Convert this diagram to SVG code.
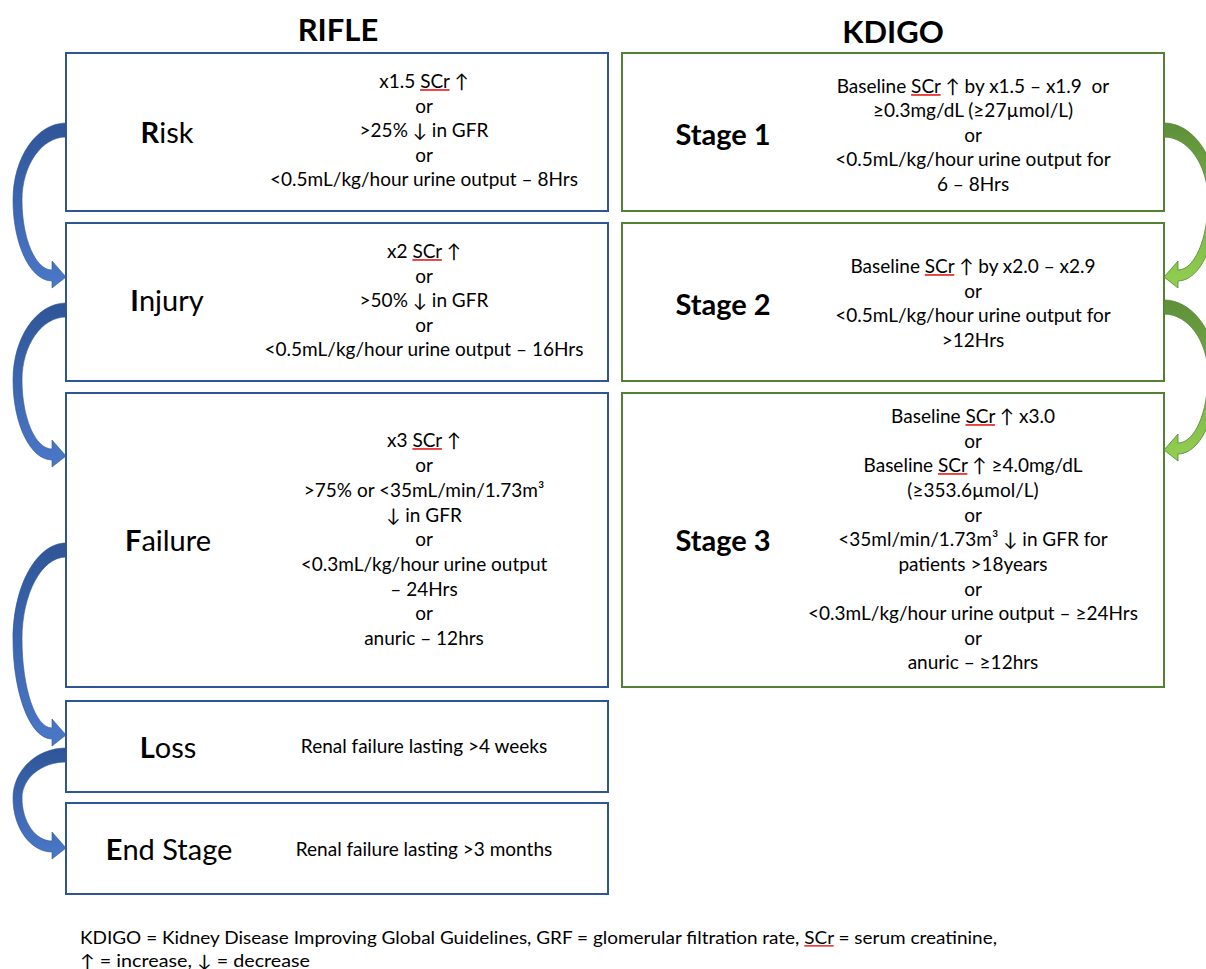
<svg xmlns="http://www.w3.org/2000/svg" width="1206" height="969" viewBox="0 0 1206 969">
<style>
text{font-family:Lato,"Liberation Sans",sans-serif;fill:#000;}
.t{font-size:19px;text-anchor:middle;}
.lab{font-size:29px;text-anchor:middle;}
.stg{font-size:29px;font-weight:bold;text-anchor:middle;}
.ttl{font-size:31px;font-weight:bold;text-anchor:middle;}
.ft{font-size:17px;}
.b{font-weight:bold;}
.sp{text-decoration:underline;fill:#e84040;}
.sp tspan{fill:#000;}
.bb{fill:#fff;stroke:#2F5597;stroke-width:2;}
.gb{fill:#fff;stroke:#548235;stroke-width:2;}
.ba{fill:url(#blueG);stroke:#2F5597;stroke-width:0.6;}
.ga{fill:url(#greenG);stroke:#548235;stroke-width:0.8;}
</style>
<defs>
<linearGradient id="blueG" x1="0" y1="0" x2="0" y2="1">
<stop offset="0" stop-color="#2F5597"/>
<stop offset="1" stop-color="#4A78C8"/>
</linearGradient>
<linearGradient id="greenG" x1="0" y1="0" x2="0" y2="1">
<stop offset="0" stop-color="#5E8F3A"/>
<stop offset="1" stop-color="#92D050"/>
</linearGradient>
</defs>
<rect width="1206" height="969" fill="#fff"/>
<text class="ttl" x="338" y="41">RIFLE</text>
<text class="ttl" x="893" y="43">KDIGO</text>

<g id="risk">
<rect class="bb" x="66" y="53" width="542" height="158"/>
<text class="lab" x="167" y="143"><tspan class="b">R</tspan>isk</text>
<text class="t" x="424" y="88">x1.5 <tspan class="sp"><tspan>SCr</tspan></tspan> ↑</text>
<text class="t" x="424" y="113">or</text>
<text class="t" x="424" y="137">&gt;25% ↓ in GFR</text>
<text class="t" x="424" y="162">or</text>
<text class="t" x="424" y="186">&lt;0.5mL/kg/hour urine output – 8Hrs</text>
</g>
<g id="injury">
<rect class="bb" x="66" y="223" width="542" height="158"/>
<text class="lab" x="167" y="311"><tspan class="b">I</tspan>njury</text>
<text class="t" x="424" y="258">x2 <tspan class="sp"><tspan>SCr</tspan></tspan> ↑</text>
<text class="t" x="424" y="283">or</text>
<text class="t" x="424" y="307">&gt;50% ↓ in GFR</text>
<text class="t" x="424" y="332">or</text>
<text class="t" x="424" y="356">&lt;0.5mL/kg/hour urine output – 16Hrs</text>
</g>
<g id="failure">
<rect class="bb" x="66" y="393" width="542" height="294"/>
<text class="lab" x="168" y="551"><tspan class="b">F</tspan>ailure</text>
<text class="t" x="424" y="447">x3 <tspan class="sp"><tspan>SCr</tspan></tspan> ↑</text>
<text class="t" x="424" y="472">or</text>
<text class="t" x="424" y="497">&gt;75% or &lt;35mL/min/1.73m³</text>
<text class="t" x="424" y="522">↓ in GFR</text>
<text class="t" x="424" y="546">or</text>
<text class="t" x="424" y="571">&lt;0.3mL/kg/hour urine output</text>
<text class="t" x="424" y="596">– 24Hrs</text>
<text class="t" x="424" y="620">or</text>
<text class="t" x="424" y="645">anuric – 12hrs</text>
</g>
<g id="loss">
<rect class="bb" x="66" y="701" width="542" height="91"/>
<text class="lab" x="168" y="758"><tspan class="b">L</tspan>oss</text>
<text class="t" x="424" y="753">Renal failure lasting &gt;4 weeks</text>
</g>
<g id="endstage">
<rect class="bb" x="66" y="803" width="542" height="91"/>
<text class="lab" x="169" y="860"><tspan class="b">E</tspan>nd Stage</text>
<text class="t" x="424" y="856">Renal failure lasting &gt;3 months</text>
</g>

<g id="stage1">
<rect class="gb" x="622" y="53" width="542" height="158"/>
<text class="stg" x="723" y="145">Stage 1</text>
<text class="t" x="973" y="93">Baseline <tspan class="sp"><tspan>SCr</tspan></tspan> ↑ by x1.5 – x1.9&#160; or</text>
<text class="t" x="973" y="117">≥0.3mg/dL (≥27µmol/L)</text>
<text class="t" x="973" y="142">or</text>
<text class="t" x="973" y="166">&lt;0.5mL/kg/hour urine output for</text>
<text class="t" x="973" y="191">6 – 8Hrs</text>
</g>
<g id="stage2">
<rect class="gb" x="622" y="223" width="542" height="158"/>
<text class="stg" x="723" y="315">Stage 2</text>
<text class="t" x="973" y="273">Baseline <tspan class="sp"><tspan>SCr</tspan></tspan> ↑ by x2.0 – x2.9</text>
<text class="t" x="973" y="298">or</text>
<text class="t" x="973" y="322">&lt;0.5mL/kg/hour urine output for</text>
<text class="t" x="973" y="347">&gt;12Hrs</text>
</g>
<g id="stage3">
<rect class="gb" x="622" y="393" width="542" height="294"/>
<text class="stg" x="723" y="551">Stage 3</text>
<text class="t" x="973" y="423">Baseline <tspan class="sp"><tspan>SCr</tspan></tspan> ↑ x3.0</text>
<text class="t" x="973" y="448">or</text>
<text class="t" x="973" y="472">Baseline <tspan class="sp"><tspan>SCr</tspan></tspan> ↑ ≥4.0mg/dL</text>
<text class="t" x="973" y="497">(≥353.6µmol/L)</text>
<text class="t" x="973" y="522">or</text>
<text class="t" x="973" y="546">&lt;35ml/min/1.73m³ ↓ in GFR for</text>
<text class="t" x="973" y="571">patients &gt;18years</text>
<text class="t" x="973" y="596">or</text>
<text class="t" x="973" y="620">&lt;0.3mL/kg/hour urine output – ≥24Hrs</text>
<text class="t" x="973" y="645">or</text>
<text class="t" x="973" y="669">anuric – ≥12hrs</text>
</g>

<g id="connectors">
<path class="ba" d="M66 123 C36.7 123 13 157.5 13 200 C13 244.7 30.5 281 52 281 L52 288 L66 277 L52 261 L52 270 C35.4 270 22 238.6 22 200 C22 165.2 41.7 137 66 137 Z"/>
<path class="ba" d="M66 303 C36.7 303 13 337.5 13 380 C13 424.2 30.5 460 52 460 L52 467 L66 456 L52 440 L52 449 C35.4 449 22 418.1 22 380 C22 345.2 41.7 317 66 317 Z"/>
<path class="ba" d="M66 543 C36.7 543 13 586 13 639 C13 694.2 30.5 739 52 739 L52 746 L66 735 L52 719 L52 728 C35.4 728 22 688.1 22 639 C22 593.7 41.7 557 66 557 Z"/>
<path class="ba" d="M66 748 C36.7 748 13 770.4 13 798 C13 827.8 30.5 852 52 852 L52 859 L66 848 L52 832 L52 841 C35.4 841 22 821.7 22 798 C22 778.1 41.7 762 66 762 Z"/>
<path class="ga" d="M1164 123 C1193.3 123 1217 157.5 1217 200 C1217 244.7 1199.5 281 1178 281 L1178 288 L1164 277 L1178 261 L1178 270 C1194.6 270 1208 238.6 1208 200 C1208 165.2 1188.3 137 1164 137 Z"/>
<path class="ga" d="M1164 300 C1193.3 300 1217 333.6 1217 375 C1217 418.6 1199.5 454 1178 454 L1178 461 L1164 450 L1178 434 L1178 443 C1194.6 443 1208 412.5 1208 375 C1208 341.3 1188.3 314 1164 314 Z"/>
</g>

<text class="ft" x="80" y="944" textLength="917" lengthAdjust="spacingAndGlyphs">KDIGO = Kidney Disease Improving Global Guidelines, GRF = glomerular filtration rate, <tspan class="sp"><tspan>SCr</tspan></tspan> = serum creatinine,</text>
<text class="ft" x="80" y="967" textLength="230" lengthAdjust="spacingAndGlyphs">↑ = increase, ↓ = decrease</text>
</svg>
